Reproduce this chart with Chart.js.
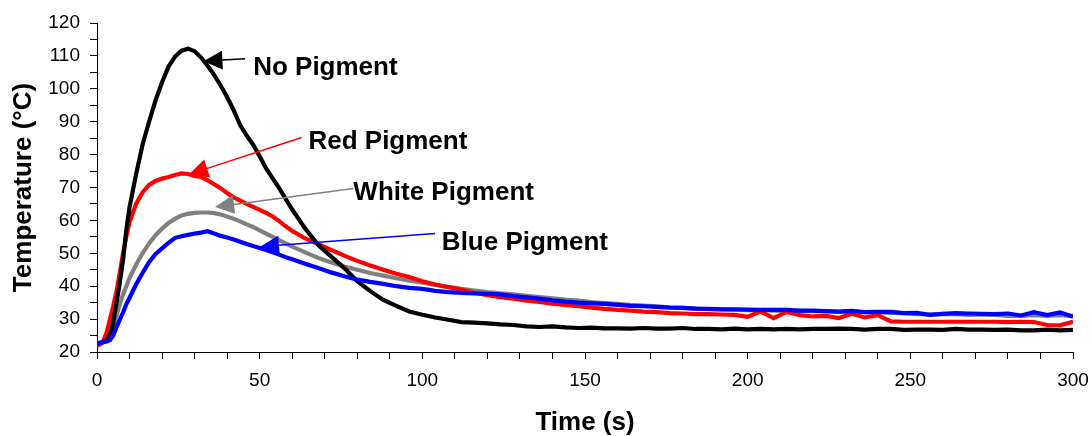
<!DOCTYPE html>
<html><head><meta charset="utf-8">
<script src="https://cdn.jsdelivr.net/npm/chart.js@4/dist/chart.umd.min.js"></script>
<style>html,body{margin:0;padding:0;background:#fff}#wrap{width:1092px;height:436px;position:relative}</style>
</head><body><div id="wrap"><canvas id="c"></canvas></div>
<script>
// ---- data ----
const times = [0,1,2,3,4,5,6,7,8,9,10,
  12,14,16,18,20,22,24,26,28,30,32,34,36,38,40,42,44,46,48,50,52,54,56,58,60,
  64,68,72,76,80,84,88,92,96,100,104,108,112,116,120,124,128,132,136,140,
  144,148,152,156,160,164,168,172,176,180,184,188,192,196,200,204,208,212,216,220,
  224,228,232,236,240,244,248,252,256,260,264,268,272,276,280,284,288,292,296,300];
const seriesNames = ['No Pigment','Red Pigment','White Pigment','Blue Pigment'];
const noPigment = [22.5,22.8,23,23.6,25,29,35,41,48,57,64,
  74,83,90,96.5,102,106.8,109.8,111.6,112.2,111.4,109.5,107,104.2,101,97.5,93.5,89,85.8,83,79.5,75.8,72.8,69.8,66.5,63.3,
  57.5,52.5,49,45.5,41.5,38.5,35.8,34,32.3,31.3,
  30.5,29.8,29.1,28.9,28.7,28.4,28.2,27.8,27.6,27.8,
  27.5,27.3,27.4,27.2,27.2,27.1,27.3,27.1,27.1,27.3,
  27,27,26.9,27.1,26.9,27,26.9,27,26.9,27,
  27,27.1,27,26.8,27,27,26.7,26.8,26.8,26.7,
  27,26.8,26.8,26.7,26.8,26.6,26.6,26.8,26.6,26.7];
const redPigment = [22,22.3,23.5,26,30,34,38.5,44,50,55,59.5,
  65,68.5,70.8,72,72.7,73.2,73.8,74.3,74.1,73.5,73.2,72.2,71,69.8,68.3,67,66,65,64.1,63.2,62.3,61.2,59.8,58.2,56.8,
  54.5,52.8,51,49.3,47.7,46.3,45,43.8,42.8,41.5,
  40.5,39.7,39,38,37.3,36.7,36.2,35.6,35.2,34.7,
  34.3,33.9,33.5,33.1,32.8,32.6,32.3,32.1,31.8,31.7,
  31.5,31.5,31.4,31.3,30.7,32.3,30.3,32.2,31.2,30.8,
  31,30.3,31.6,30.5,31.2,29.3,29.2,29.2,29.2,29.2,
  29.2,29.2,29.2,29.2,29.1,29.2,29.1,28.2,28.1,29.2];
const whitePigment = [22.5,22.6,23,24,25.5,27.5,31,34.5,37.5,40,42.5,
  46.5,50,53,55.5,57.5,59.2,60.5,61.5,62,62.3,62.4,62.4,62.2,61.8,61.2,60.5,59.7,58.8,58,57,56,55,54,53,52,
  50.3,48.6,47.2,46,45,44,43.2,42.4,41.7,41.1,
  40.4,39.8,39.2,38.7,38.2,37.8,37.5,37.1,36.7,36.3,
  35.9,35.6,35.2,34.9,34.6,34.3,34.1,33.9,33.6,33.4,
  33.2,33,32.9,32.8,32.7,32.7,32.6,32.5,32.5,32.4,
  32.4,32.2,32.2,32.1,32,31.9,31.8,31.5,31.4,31.6,
  31.5,31.3,31.4,31.3,31,31,31.2,31,31.2,31];
const bluePigment = [22.8,22.8,23,23.2,23.6,25,27.5,29.8,32,34.5,36.5,
  40.5,44,47.3,49.8,51.5,53.2,54.7,55.2,55.6,56,56.3,56.7,56,55.3,54.8,54.2,53.5,52.8,52.2,51.6,51,50.3,49.6,48.8,48.2,
  46.8,45.5,44.2,43,42,41.3,40.7,40,39.5,39.2,
  38.6,38.2,38,37.8,37.7,37.5,37,36.6,36.2,35.7,
  35.3,35,34.8,34.6,34.3,34,33.9,33.7,33.5,33.4,
  33.2,33.1,33,33,32.9,32.8,32.8,32.8,32.6,32.6,
  32.4,32.3,32.5,32.1,32.2,32.2,31.8,31.9,31.3,31.6,
  31.8,31.7,31.6,31.5,31.7,31.1,32.1,31.2,32,30.7];
const xTickLabels = [0,50,100,150,200,250,300];
const yTickLabels = [20,30,40,50,60,70,80,90,100,110,120];
const xTitle = 'Time (s)';
const yTitle = 'Temperature (°C)';

// ---- build ----
const toPts = arr => times.map((t,i)=>({x:t,y:arr[i]}));
const seriesValues = [noPigment, redPigment, whitePigment, bluePigment];
const seriesColors = ['#000000','#ff0000','#808080','#0000ff'];
const drawOrder = [1,2,3,0];

// annotation arrows in data coordinates
const notes = [
  {i:0, tx:48.0, ty:104.1, lx:45.5, ly:109.1, ax:32.7, ay:108.4},
  {i:1, tx:65.0, ty:81.8,  lx:62.9, ly:85.2,  ax:28.3, ay:74.0},
  {i:2, tx:78.8, ty:66.1,  lx:78.8, ly:69.7,  ax:36.3, ay:64.1},
  {i:3, tx:106.0,ty:50.9,  lx:103.9,ly:56.0,  ax:50.1, ay:52.0}
];
const arrowPlugin = {
  id:'arrows',
  afterDatasetsDraw(chart){
    const {ctx, scales:{x,y}} = chart;
    ctx.save();
    notes.forEach(n=>{
      const col = seriesColors[n.i];
      const x1=x.getPixelForValue(n.lx), y1=y.getPixelForValue(n.ly);
      const x2=x.getPixelForValue(n.ax), y2=y.getPixelForValue(n.ay);
      const dx=x1-x2, dy=y1-y2, L=Math.hypot(dx,dy), ux=dx/L, uy=dy/L;
      const hl=19, hw=9.5;
      ctx.strokeStyle=col; ctx.lineWidth=1.5;
      ctx.beginPath(); ctx.moveTo(x1,y1); ctx.lineTo(x2+ux*hl*0.8,y2+uy*hl*0.8); ctx.stroke();
      ctx.fillStyle=col;
      ctx.beginPath();
      ctx.moveTo(x2,y2);
      ctx.lineTo(x2+ux*hl-uy*hw, y2+uy*hl+ux*hw);
      ctx.lineTo(x2+ux*hl+uy*hw, y2+uy*hl-ux*hw);
      ctx.closePath(); ctx.fill();
      ctx.fillStyle='#000';
      ctx.font='bold 26px "Liberation Sans", Arial, sans-serif';
      ctx.textAlign='left'; ctx.textBaseline='alphabetic';
      ctx.fillText(seriesNames[n.i], x.getPixelForValue(n.tx), y.getPixelForValue(n.ty));
    });
    ctx.restore();
  }
};

const datasets = seriesValues.map((arr,k)=>({
  label: seriesNames[k],
  data: toPts(arr),
  borderColor: seriesColors[k],
  backgroundColor: seriesColors[k],
  borderWidth: 4.2,
  pointRadius: 0,
  tension: 0,
  fill: false,
  order: drawOrder[k]
}));

const tickFont = {family:'"Liberation Sans", Arial, sans-serif', size:19};
const titleFont = {family:'"Liberation Sans", Arial, sans-serif', size:26, weight:'bold'};

new Chart(document.getElementById('c'), {
  type:'line',
  data:{datasets},
  plugins:[arrowPlugin],
  options:{
    responsive:true, maintainAspectRatio:false, animation:false,
    layout:{padding:{left:0,right:19,top:23,bottom:0}},
    plugins:{legend:{display:false}, tooltip:{enabled:false}},
    scales:{
      x:{
        type:'linear', min:0, max:300,
        afterFit(s){ s.height = 84; s.paddingLeft = 0; s.paddingRight = 0; },
        ticks:{stepSize:10, autoSkip:false, maxRotation:0, color:'#000', font:tickFont, padding:10,
          callback:v => xTickLabels.includes(v) ? String(v) : ''},
        grid:{drawOnChartArea:false, drawTicks:true, tickLength:7, color:'#000', lineWidth:1},
        border:{display:true, color:'#000', width:1},
        title:{display:true, text:xTitle, color:'#000', font:Object.assign({lineHeight:1.0}, titleFont), padding:{top:0,bottom:0}}
      },
      y:{
        min:20, max:120,
        afterFit(s){ s.width = 97; s.paddingTop = 0; s.paddingBottom = 0; },
        ticks:{stepSize:5, autoSkip:false, color:'#000', font:tickFont, padding:10,
          callback:v => yTickLabels.includes(v) ? String(v) : ''},
        grid:{drawOnChartArea:false, drawTicks:true, tickLength:7, color:'#000', lineWidth:1},
        border:{display:true, color:'#000', width:1},
        title:{display:true, text:yTitle, color:'#000', font:titleFont, padding:{top:8,bottom:0}}
      }
    }
  }
});
</script></body></html>
